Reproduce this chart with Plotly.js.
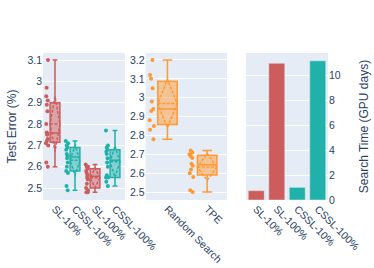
<!DOCTYPE html>
<html>
<head>
<meta charset="utf-8">
<script src="https://cdn.plot.ly/plotly-3.0.1.min.js"></script>
<style>html,body{margin:0;padding:0;background:#fff}#chart{width:374px;height:268px}</style>
</head>
<body>
<div id="chart"></div>
<script>
// Panel 1: test error by method
const sl10 = [3.10, 2.97, 2.93, 2.91, 2.89, 2.86, 2.80, 2.755, 2.76, 2.75, 2.73, 2.72, 2.71, 2.70, 2.62, 2.60];
const cssl10 = [2.72, 2.71, 2.70, 2.69, 2.68, 2.66, 2.65, 2.64, 2.62, 2.60, 2.58, 2.57, 2.51, 2.49];
const sl100 = [2.61, 2.60, 2.60, 2.59, 2.58, 2.57, 2.56, 2.55, 2.54, 2.52, 2.50, 2.49, 2.48, 2.48];
const cssl100 = [2.77, 2.70, 2.69, 2.68, 2.67, 2.66, 2.64, 2.62, 2.60, 2.56, 2.55, 2.55, 2.53, 2.51];
// Panel 2: HPO baselines
const randomSearch = [3.20, 3.12, 3.10, 3.05, 2.98, 2.94, 2.93, 2.88, 2.85, 2.83, 2.78];
const tpe = [2.72, 2.71, 2.70, 2.69, 2.68, 2.65, 2.64, 2.62, 2.60, 2.58, 2.51, 2.50];
// Panel 3: search time
const timeCategories = ["SL-10%", "SL-100%", "CSSL-10%", "CSSL-100%"];
const timeValues = [0.75, 11.0, 1.02, 11.2];
const timeColors = ["#CD5C5C", "#CD5C5C", "#20B2AA", "#20B2AA"];

const RED = "#CD5C5C", TEAL = "#20B2AA", ORANGE = "#FF9933";

function box(name, y, color, xa, ya) {
  return {type: "box", name: name, y: y, xaxis: xa, yaxis: ya,
    marker: {color: color, size: 4}, line: {color: color, width: 1.5},
    boxpoints: "all", jitter: 0.3, pointpos: -1.6, boxmean: "sd",
    showlegend: false, hoverinfo: "y"};
}

const data = [
  box("SL-10%", sl10, RED, "x", "y"),
  box("CSSL-10%", cssl10, TEAL, "x", "y"),
  box("SL-100%", sl100, RED, "x", "y"),
  box("CSSL-100%", cssl100, TEAL, "x", "y"),
  box("Random Search", randomSearch, ORANGE, "x2", "y2"),
  box("TPE", tpe, ORANGE, "x2", "y2"),
  {type: "bar", x: timeCategories, y: timeValues, xaxis: "x3", yaxis: "y3",
   marker: {color: timeColors, line: {color: "#E5ECF6", width: 0.5}}, showlegend: false}
];

const FONT = "Liberation Sans, Arial, Helvetica, sans-serif";
const tickFont = {family: FONT, size: 10.5, color: "#2a3f5f"};
const titleFont = {family: FONT, size: 12, color: "#2a3f5f"};
const xCommon = {tickangle: 45, showgrid: false, tickfont: tickFont, automargin: false, zeroline: false, ticks: "", showline: false};
const yCommon = {gridcolor: "white", tickfont: tickFont, automargin: false, zeroline: false, showline: false, ticks: ""};
const yDom = [68/268, 215/268];

const layout = {
  width: 374, height: 268,
  margin: {l: 0, r: 0, t: 0, b: 0},
  paper_bgcolor: "white", plot_bgcolor: "#E5ECF6",
  font: {family: FONT, color: "#2a3f5f", size: 10.5},
  showlegend: false,
  bargap: 0.22,
  xaxis: Object.assign({}, xCommon, {domain: [43/374, 125/374], anchor: "y"}),
  yaxis: Object.assign({}, yCommon, {domain: yDom, anchor: "x", range: [2.444, 3.133], dtick: 0.1,
    title: {text: "Test Error (%)", font: titleFont, standoff: 8}}),
  xaxis2: Object.assign({}, xCommon, {domain: [145.6/374, 227/374], anchor: "y2"}),
  yaxis2: Object.assign({}, yCommon, {domain: yDom, anchor: "x2", range: [2.458, 3.237], dtick: 0.1}),
  xaxis3: Object.assign({}, xCommon, {domain: [246/374, 328/374], anchor: "y3"}),
  yaxis3: Object.assign({}, yCommon, {domain: yDom, anchor: "x3", side: "right", range: [0, 11.83], dtick: 2,
    title: {text: "Search Time (GPU days)", font: titleFont}})
};

Plotly.newPlot("chart", data, layout, {displayModeBar: false, staticPlot: true});
</script>
</body>
</html>
